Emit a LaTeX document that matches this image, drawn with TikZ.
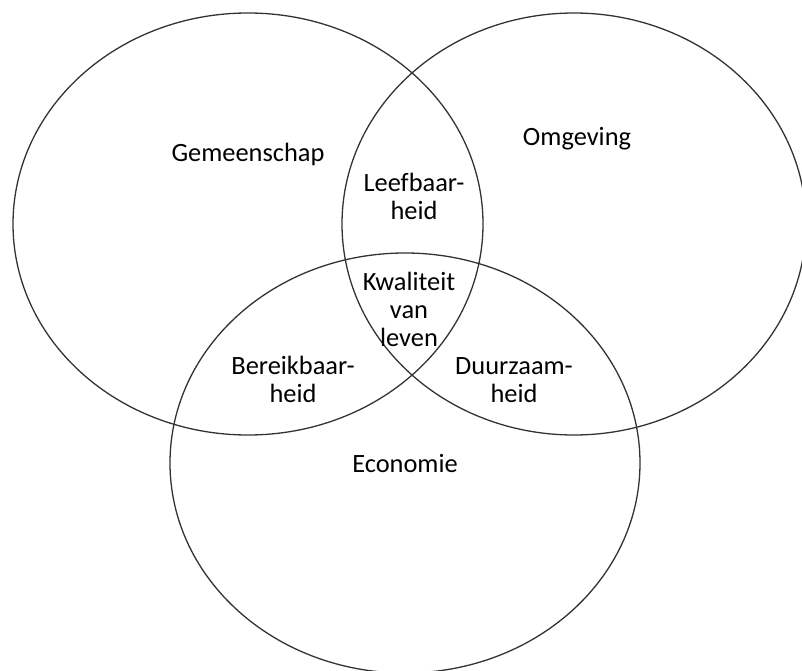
\documentclass[tikz,border=0pt]{standalone}
\usepackage{fontspec}
\setmainfont{Carlito}[Ligatures=NoCommon]
\tikzset{
  venn/.style={draw=black!80,line width=1.3pt},
  lbl/.style={align=center,inner sep=0pt,font=\fontsize{26.4}{28}\selectfont}
}
\begin{document}
\begin{tikzpicture}[x=1pt,y=-1pt]
    \useasboundingbox (0,0) rectangle (802,671);
    % de drie cirkels
    \draw[venn] (248,224) ellipse [x radius=235pt,y radius=211pt];
    \draw[venn] (574,224) ellipse [x radius=232pt,y radius=211pt];
    \draw[venn] (405,463) ellipse [x radius=235pt,y radius=210pt];
    % labels
    \node[lbl] (gemeenschap) at (248,154) {Gemeenschap};
    \node[lbl] (omgeving) at (577,139) {Omgeving};
    \node[lbl] (economie) at (405,464) {Economie};
    \node[lbl] (leefbaar) at (414,196) {Leefbaar-\\heid};
    \node[lbl] (bereikbaar) at (293,379) {Bereikbaar-\\heid};
    \node[lbl] (duurzaam) at (514,380) {Duurzaam-\\heid};
    \node[lbl] (kwaliteit) at (409,309) {Kwaliteit\\van\\leven};
\end{tikzpicture}
\end{document}
